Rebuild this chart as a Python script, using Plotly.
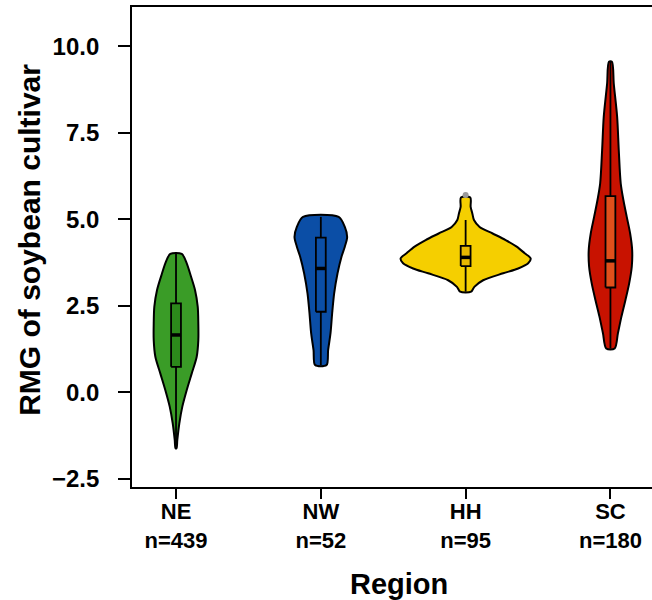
import plotly.graph_objects as go

regions = ["NE", "NW", "HH", "SC"]
counts = [439, 52, 95, 180]

# violin outlines: RMG value and relative density (HH peak = 1)
ne_y = [4.00, 3.73, 3.44, 2.96, 2.47, 1.99, 1.51, 1.03, 0.55, 0.07, -0.41, -0.89, -1.37, -1.61]
ne_d = [0.088, 0.165, 0.215, 0.292, 0.334, 0.343, 0.343, 0.318, 0.242, 0.165, 0.097, 0.051, 0.020, 0.008]
nw_y = [5.07, 4.78, 4.49, 4.21, 3.92, 3.44, 2.86, 2.28, 1.71, 1.22, 0.79]
nw_d = [0.274, 0.369, 0.405, 0.369, 0.318, 0.257, 0.205, 0.174, 0.149, 0.112, 0.088]
hh_y = [5.63, 5.36, 5.17, 4.98, 4.78, 4.59, 4.40, 4.21, 4.02, 3.87, 3.73, 3.58, 3.44, 3.24, 3.05, 2.91]
hh_d = [0.072, 0.077, 0.103, 0.128, 0.215, 0.415, 0.615, 0.785, 0.908, 1.0, 0.962, 0.808, 0.577, 0.269, 0.134, 0.085]
sc_y = [9.55, 8.92, 7.96, 7.00, 6.04, 5.55, 5.07, 4.59, 4.11, 3.63, 3.15, 2.67, 2.19, 1.71, 1.27]
sc_d = [0.023, 0.051, 0.103, 0.128, 0.158, 0.200, 0.251, 0.303, 0.334, 0.328, 0.288, 0.231, 0.169, 0.115, 0.065]

# box-plot statistics
q1 = [0.74, 2.33, 3.65, 3.03]
median = [1.66, 3.58, 3.90, 3.80]
q3 = [2.57, 4.47, 4.23, 5.67]
lower = [-1.61, 0.79, 2.91, 1.27]
upper = [4.00, 5.07, 4.98, 9.55]
outlier_region = ["HH"]
outlier_value = [5.70]

y_ticks = [-2.5, 0.0, 2.5, 5.0, 7.5, 10.0]
y_tick_text = ["\u22122.5", "0.0", "2.5", "5.0", "7.5", "10.0"]

violin_colors = ["#3a9c27", "#0b4ea6", "#f5cf00", "#c81200"]
box_colors = ["#2c891b", "#0b4ea6", "#e8b800", "#e0501c"]

profiles = [(ne_y, ne_d), (nw_y, nw_d), (hh_y, hh_d), (sc_y, sc_d)]
WSCALE = 0.449   # half-width (x units) of density 1
BOXHALF = 0.034

fig = go.Figure()
for i, (ys, ds) in enumerate(profiles):
    xs_right = [i + d * WSCALE for d in ds]
    xs_left = [i - d * WSCALE for d in ds[::-1]]
    fig.add_trace(go.Scatter(
        x=xs_right + xs_left + [xs_right[0]],
        y=ys + ys[::-1] + [ys[0]],
        mode="lines", fill="toself", fillcolor=violin_colors[i],
        line=dict(color="black", width=2, shape="spline", smoothing=0.8),
        hoverinfo="skip", showlegend=False))

for i in range(len(regions)):
    # whisker
    fig.add_trace(go.Scatter(
        x=[i, i], y=[lower[i], upper[i]], mode="lines",
        line=dict(color="black", width=1.8),
        hoverinfo="skip", showlegend=False))
    # box (q1..q3)
    fig.add_trace(go.Scatter(
        x=[i - BOXHALF, i + BOXHALF, i + BOXHALF, i - BOXHALF, i - BOXHALF],
        y=[q1[i], q1[i], q3[i], q3[i], q1[i]],
        mode="lines", fill="toself", fillcolor=box_colors[i],
        line=dict(color="black", width=1.8),
        hoverinfo="skip", showlegend=False))
    # median
    fig.add_trace(go.Scatter(
        x=[i - BOXHALF, i + BOXHALF], y=[median[i], median[i]],
        mode="lines", line=dict(color="black", width=3.5),
        hoverinfo="skip", showlegend=False))

fig.add_trace(go.Scatter(
    x=[regions.index(r) for r in outlier_region], y=outlier_value,
    mode="markers", marker=dict(color="#9a9a9a", size=6),
    hoverinfo="skip", showlegend=False))

font_family = "Liberation Sans, Arial, sans-serif"
fig.update_layout(
    width=652, height=600,
    margin=dict(l=132, r=0, t=7, b=113),
    plot_bgcolor="white", paper_bgcolor="white",
    xaxis=dict(
        range=[-0.304, 3.287], showgrid=False, zeroline=False,
        showline=True, linecolor="black", linewidth=1.8, mirror=True,
        tickmode="array", tickvals=list(range(len(regions))),
        ticktext=[f"{r}<br>n={n}" for r, n in zip(regions, counts)],
        ticks="outside", ticklen=10, tickwidth=1.8, tickcolor="black",
        ticklabelstandoff=-6,
        tickfont=dict(family=font_family, size=22, color="black", weight="bold"),
    ),
    yaxis=dict(
        range=[-2.73, 11.13], showgrid=False, zeroline=False,
        showline=True, linecolor="black", linewidth=1.8,
        tickmode="array", tickvals=y_ticks, ticktext=y_tick_text,
        ticks="outside", ticklen=12, tickwidth=1.8, tickcolor="black",
        ticklabelstandoff=14,
        tickfont=dict(family=font_family, size=24, color="black", weight="bold"),
    ),
    annotations=[
        dict(text="RMG of soybean cultivar", xref="paper", yref="paper",
             x=0, y=0.515, xshift=-102, xanchor="center", yanchor="middle",
             textangle=-90, showarrow=False,
             font=dict(family=font_family, size=30, color="black", weight="bold")),
        dict(text="Region", xref="paper", yref="paper",
             x=0.513, y=-0.202, xanchor="center", yanchor="middle",
             showarrow=False,
             font=dict(family=font_family, size=29, color="black", weight="bold")),
    ],
)

fig.write_html("out.html", config={"displayModeBar": False},
               post_script="document.body.style.margin='0';")
